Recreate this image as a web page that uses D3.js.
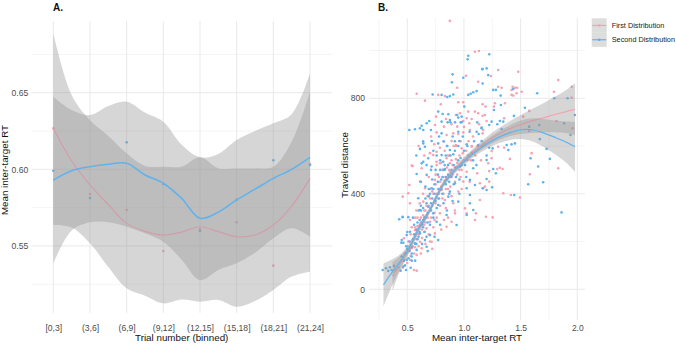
<!DOCTYPE html>
<html>
<head>
<meta charset="utf-8">
<script src="https://cdn.jsdelivr.net/npm/d3@7"></script>
<style>
  body { margin: 0; background: #fff; }
  svg { display: block; font-family: "Liberation Sans", Arial, sans-serif; }
</style>
</head>
<body>
<svg id="chart" width="676" height="345"></svg>
<script>
// ---- panel A data (binned trials) ----
const trialBins = ["[0,3]", "(3,6]", "(6,9]", "(9,12]", "(12,15]", "(15,18]", "(18,21]", "(21,24]"];
const firstMeans = [0.6268, 0.5839, 0.5734, 0.5467, 0.5610, 0.5654, 0.5371, 0.6035];
const secondMeans = [0.5991, 0.5813, 0.6176, 0.5904, 0.5597, 0.5802, 0.6059, 0.6028];

// smoother read at every half bin
const smoothPos = [1, 1.5, 2, 2.5, 3, 3.5, 4, 4.5, 5, 5.5, 6, 6.5, 7, 7.5, 8];
const firstFit  = [0.6268, 0.6054, 0.5898, 0.5770, 0.5647, 0.5595, 0.5571, 0.5590, 0.5625, 0.5593, 0.5560, 0.5571, 0.5636, 0.5760, 0.5941];
const firstLow  = [0.5636, 0.5620, 0.5517, 0.5362, 0.5223, 0.5175, 0.5125, 0.5150, 0.5136, 0.5147, 0.5103, 0.5140, 0.5212, 0.5300, 0.5332];
const firstHigh = [0.6888, 0.6485, 0.6320, 0.6218, 0.6104, 0.6022, 0.6017, 0.6017, 0.6078, 0.6006, 0.6006, 0.6006, 0.6017, 0.6180, 0.6507];
const secondFit  = [0.5930, 0.5991, 0.6017, 0.6033, 0.6039, 0.5963, 0.5909, 0.5810, 0.5680, 0.5720, 0.5800, 0.5870, 0.5941, 0.6000, 0.6078];
const secondLow  = [0.5386, 0.5600, 0.5654, 0.5654, 0.5625, 0.5582, 0.5527, 0.5410, 0.5277, 0.5343, 0.5386, 0.5456, 0.5550, 0.5615, 0.5560];
const secondHigh = [0.6474, 0.6387, 0.6354, 0.6413, 0.6441, 0.6370, 0.6310, 0.6160, 0.6078, 0.6100, 0.6191, 0.6250, 0.6300, 0.6360, 0.6627];

// ---- panel B data (RT vs travel distance) ----
const firstPoints = [
  [0.876,1124],[1.132,998],[1.097,995],[1.018,894],[0.941,844],[1.126,869],[0.583,819],[0.773,814],[0.832,809],[0.656,790],
  [0.795,775],[0.950,783],[0.994,783],[1.038,744],[1.097,744],[1.126,737],[0.929,730],[0.965,737],[0.753,723],[0.841,713],
  [1.024,716],[1.068,713],[0.744,688],[0.824,681],[0.891,691],[0.941,681],[0.994,705],[1.047,695],[1.134,691],[0.759,657],
  [0.847,646],[0.906,653],[0.994,657],[1.053,667],[1.170,667],[0.738,607],[0.788,593],[0.824,618],[0.891,621],[0.929,604],
  [0.980,590],[1.068,597],[0.759,576],[0.729,562],[0.847,549],[0.759,534],[0.876,528],[0.700,570],
  [1.302,918],[1.238,893],[1.479,911],[1.832,876],[1.794,827],[1.950,848],[1.950,802],[1.302,848],[1.332,844],[1.429,848],
  [1.450,844],[1.420,835],[1.470,844],[1.509,827],[1.420,814],[1.435,811],[1.465,821],[1.273,779],[1.362,779],[1.265,765],
  [1.165,727],[1.191,765],[1.576,747],[1.355,716],[1.523,723],[1.817,705],[1.958,674],[1.576,663],[1.832,507],[1.597,570],
  [1.582,482],[1.406,546],[1.355,593],[1.347,402],[1.414,395],[1.494,384],[1.194,304],[1.253,301],[1.185,430],[1.223,451],
  [1.317,509],[1.294,504],[1.341,504],[1.223,495],[1.214,528],[1.244,549],[1.244,579],[1.302,597],[1.165,775],[1.185,730],
  [1.165,653],[1.200,705],[1.097,290],[1.024,318],
  [0.559,81],[0.400,81],[0.583,78],[0.465,123],[0.518,162],[0.500,181],[0.568,176],[0.524,290],[0.459,304],[0.509,402],
  [0.518,437],[0.548,516],[0.539,518],[0.627,507],[0.788,528],[0.876,492],[1.024,492],[1.117,486],[0.994,451],[0.744,458],
  [0.612,451],[0.656,423],[0.803,416],[0.950,409],[1.141,444],[1.170,423],[0.524,360],[0.641,367],[0.744,374],[0.832,374],
  [0.906,360],[1.009,339],[1.106,318],[0.921,318],[0.788,318],[0.671,311],[0.700,283],[0.824,290],[0.891,283],[0.847,262],
  [1.141,374],[0.459,388],[0.568,248],[0.656,241],[0.744,234],[0.715,199],[0.612,199],[0.539,172],[0.627,172],[0.583,144],
  [0.524,123],[0.471,214],
  [0.50,110],[0.53,140],[0.55,205],[0.57,225],[0.59,265],[0.60,180],[0.62,300],[0.63,215],[0.65,270],[0.66,330],
  [0.67,255],[0.68,390],[0.69,230],[0.70,340],[0.71,300],[0.72,410],[0.73,260],[0.74,320],[0.75,440],[0.76,300],
  [0.77,380],[0.78,470],[0.79,350],[0.80,430],[0.81,500],[0.82,400],[0.83,455],[0.84,340],[0.85,510],[0.86,420],
  [0.87,560],[0.88,470],[0.89,390],[0.90,520],[0.91,600],[0.92,450],[0.93,545],[0.94,480],[0.96,560],[0.97,620],
  [0.98,500],[1.00,540],[1.02,580],[1.04,620],[1.06,540],[1.08,640],[1.10,560],[1.12,600],[1.15,540],[1.18,610],
  [0.58,330],[0.64,400],[0.62,150],[0.66,190],[0.70,200],[0.72,170],[0.80,250],[0.86,300],[0.92,330],[0.98,420],
  [1.05,450],[0.54,260],[0.57,300],[0.61,360],[0.69,470],[0.76,520],[0.83,580],[0.95,650],[1.00,680],[0.71,640],
  [0.65,560],[0.60,600],
  [0.52,170],[0.55,180],[0.56,150],[0.58,210],[0.60,230],[0.61,270],[0.63,250],[0.64,310],[0.66,280],[0.67,350],
  [0.68,300],[0.70,380],[0.72,350],[0.73,400],[0.74,290],[0.75,360],[0.77,420],[0.78,400],[0.79,450],[0.81,380],
  [0.82,470],[0.84,420],[0.85,460],[0.87,500],[0.88,430],[0.90,480],[0.92,510],[0.94,530],[0.96,500],[0.99,570],
  [1.03,540],[1.07,600],[0.57,260],[0.62,280],[0.65,330],[0.69,350],[0.76,400],[0.83,500],[0.89,540],[0.97,470],
  [0.51,200],[0.48,150],[0.46,90],[0.53,230],[0.59,300],[0.70,420],[0.75,480],[0.80,530],[0.86,560],[0.93,600]
];
const secondPoints = [
  [1.038,978],[1.033,963],[1.161,922],[0.900,900],[0.994,886],[0.894,867],[1.112,830],[1.082,825],[1.059,819],[1.038,814],
  [0.724,816],[0.803,814],[0.853,805],[0.876,809],[0.906,816],[1.003,765],[0.773,744],[0.812,734],[0.862,733],[0.950,719],
  [0.980,723],[0.876,709],[0.694,705],[0.671,695],[0.627,685],[0.612,674],[0.568,670],[0.518,667],[0.641,667],[0.709,667],
  [0.803,702],[0.856,699],[0.921,699],[0.971,699],[1.117,699],[1.156,677],[0.803,653],[0.950,660],[1.112,660],[0.715,621],
  [0.773,611],[0.853,600],[0.876,583],[0.959,621],[1.024,607],[1.126,604],[0.641,611],[0.656,597],[0.612,588],[0.803,562],
  [0.906,565],[0.685,549],[0.641,534],[0.817,534],
  [1.223,984],[1.200,925],[1.165,922],[1.214,897],[1.165,862],[1.797,800],[1.914,800],[1.646,821],[1.258,835],[1.282,835],
  [1.435,839],[1.324,811],[1.326,772],[1.265,751],[1.538,760],[1.441,726],[1.884,695],[1.940,646],[1.979,730],[1.664,688],
  [1.576,681],[1.670,629],[1.729,588],[1.758,546],[1.588,549],[1.655,514],[1.567,440],[1.699,448],[1.861,322],[1.391,583],
  [1.377,604],[1.420,607],[1.450,611],[1.444,395],[1.200,416],[1.165,423],[1.249,427],[1.258,504],[1.200,462],[1.282,486],
  [1.200,541],[1.253,590],[1.223,593],[1.156,674],[1.223,688],[1.244,702],[1.156,621],[1.294,691],[1.317,705],[1.347,702],
  [1.332,671],
  [0.283,81],[0.312,88],[0.347,92],[0.383,98],[0.421,92],[0.465,95],[0.489,81],[0.441,78],[0.362,81],[0.332,77],
  [0.451,137],[0.489,151],[0.539,176],[0.465,195],[0.429,293],[0.459,302],[0.509,302],[0.627,528],[0.715,514],[0.832,503],
  [0.965,514],[1.082,507],[1.053,458],[0.921,444],[0.671,479],[0.583,483],[0.715,423],[0.876,409],[1.024,423],[1.097,437],
  [1.053,395],[0.597,381],[0.685,346],[0.773,353],[0.862,388],[0.950,367],[1.053,360],[1.024,311],[0.847,311],[0.729,318],
  [0.612,332],[0.641,290],[0.759,283],[0.935,269],[1.082,332],[0.524,241],[0.612,234],[0.700,227],[0.773,206],[0.656,206],
  [0.568,193],[0.583,165],[0.671,178],[0.539,137],[0.495,123],[0.451,206],[0.495,227],[0.447,195],
  [0.48,100],[0.51,130],[0.52,200],[0.54,150],[0.56,230],[0.58,190],[0.59,280],[0.61,240],[0.62,330],[0.64,260],
  [0.65,300],[0.66,380],[0.67,220],[0.68,320],[0.69,420],[0.70,270],[0.71,360],[0.72,460],[0.73,300],[0.74,400],
  [0.75,500],[0.76,340],[0.77,450],[0.78,380],[0.79,540],[0.80,420],[0.81,470],[0.82,360],[0.83,520],[0.84,440],
  [0.85,600],[0.86,480],[0.87,400],[0.88,560],[0.89,500],[0.90,640],[0.91,440],[0.92,580],[0.93,510],[0.95,600],
  [0.96,460],[0.97,550],[0.99,640],[1.01,520],[1.03,600],[1.05,660],[1.07,570],[1.09,620],[1.11,520],[1.13,650],
  [1.16,600],[1.20,560],[0.55,300],[0.60,330],[0.63,190],[0.68,160],[0.74,220],[0.79,270],[0.85,330],[0.90,370],
  [0.96,400],[1.02,470],[0.53,90],[0.57,120],[0.62,450],[0.67,520],[0.73,580],[0.78,640],[0.88,700],[0.94,730],
  [0.58,560],[0.64,620],[0.50,240],
  [0.50,170],[0.52,160],[0.55,210],[0.57,190],[0.58,250],[0.60,220],[0.61,290],[0.63,270],[0.64,340],[0.66,300],
  [0.67,360],[0.68,280],[0.70,400],[0.71,330],[0.72,380],[0.74,440],[0.75,370],[0.77,480],[0.78,420],[0.80,460],
  [0.81,400],[0.82,500],[0.84,470],[0.86,520],[0.87,450],[0.89,470],[0.91,520],[0.93,470],[0.95,540],[0.98,520],
  [1.00,580],[1.04,560],[1.08,540],[0.56,270],[0.62,350],[0.65,240],[0.69,390],[0.73,420],[0.79,500],[0.84,560],
  [0.92,620],[0.47,120],[0.49,180],[0.54,120],[0.59,210],[0.66,430],[0.71,500],[0.76,560],[0.82,620],[0.98,700]
];

// loess fits for panel B (value and half width of the band)
const bFirstX    = [0.37, 0.40, 0.45, 0.50, 0.55, 0.60, 0.65, 0.70, 0.75, 0.80, 0.85, 0.90, 0.95, 1.00, 1.10, 1.20, 1.30, 1.40, 1.50, 1.60, 1.70, 1.80, 1.90, 1.98];
const bFirstFit  = [55, 80, 118, 155, 200, 250, 290, 332, 382, 428, 463, 492, 517, 540, 582, 618, 648, 672, 690, 705, 718, 732, 744, 754];
const bFirstHalf = [60, 45, 28, 19, 15, 14, 13, 12, 12, 12, 12, 12, 13, 14, 16, 20, 25, 31, 40, 50, 61, 74, 90, 109];
const bSecondX    = [0.29, 0.35, 0.40, 0.45, 0.50, 0.55, 0.60, 0.65, 0.70, 0.75, 0.80, 0.85, 0.90, 0.95, 1.00, 1.10, 1.20, 1.30, 1.40, 1.50, 1.60, 1.70, 1.80, 1.90, 1.98];
const bSecondFit  = [18, 60, 92, 125, 160, 205, 255, 292, 332, 380, 425, 460, 488, 512, 535, 575, 608, 635, 655, 668, 668, 655, 637, 617, 597];
const bSecondHalf = [90, 62, 42, 27, 19, 15, 14, 13, 12, 12, 12, 12, 12, 13, 14, 16, 20, 25, 31, 39, 48, 58, 70, 86, 105];

const seriesNames = ["First Distribution", "Second Distribution"];

// ---- styling ----
const PINK = "#f7a1b4";
const BLUE = "#5fb3ec";
const BAND = "#999999";
const GRID = "#e9e9e9";
const GRID_MINOR = "#f1f1f1";
const TICK_TXT = "#4d4d4d";

const svg = d3.select("#chart");
svg.append("rect").attr("width", 676).attr("height", 345).attr("fill", "#fff");

function styleAxis(g, size) {
  g.select(".domain").remove();
  g.selectAll(".tick line").remove();
  g.selectAll("text").attr("fill", TICK_TXT).style("font-size", size + "px").style("font-family", "Liberation Sans, Arial, sans-serif");
}

// =================== Panel A ===================
const xA = d3.scaleLinear().domain([0.4, 8.6]).range([31.3, 332]);
const yA = d3.scaleLinear().domain([0.5062, 0.6968]).range([313, 21]);
const gA = svg.append("g");

gA.selectAll("line.minor").data([0.525, 0.575, 0.625, 0.675]).enter().append("line")
  .attr("x1", xA.range()[0]).attr("x2", xA.range()[1])
  .attr("y1", d => yA(d)).attr("y2", d => yA(d))
  .attr("stroke", GRID_MINOR).attr("stroke-width", 0.8);
gA.selectAll("line.hmajor").data([0.55, 0.60, 0.65]).enter().append("line")
  .attr("x1", xA.range()[0]).attr("x2", xA.range()[1])
  .attr("y1", d => yA(d)).attr("y2", d => yA(d))
  .attr("stroke", GRID).attr("stroke-width", 1);
gA.selectAll("line.vmajor").data(d3.range(1, 9)).enter().append("line")
  .attr("x1", d => xA(d)).attr("x2", d => xA(d))
  .attr("y1", yA.range()[0]).attr("y2", yA.range()[1])
  .attr("stroke", GRID).attr("stroke-width", 1);

gA.append("g").attr("transform", "translate(31.3,0)")
  .call(d3.axisLeft(yA).tickValues([0.55, 0.60, 0.65]).tickFormat(d3.format(".2f")).tickSize(0).tickPadding(3))
  .call(g => styleAxis(g, 8.6));
gA.append("g").attr("transform", "translate(0,313)")
  .call(d3.axisBottom(xA).tickValues(d3.range(1, 9)).tickFormat(i => trialBins[i - 1]).tickSize(0).tickPadding(11.5))
  .call(g => styleAxis(g, 8.6));

// points first, then the smoothers on top (ggplot layer order)
gA.selectAll("circle.a1").data(firstMeans).enter().append("circle")
  .attr("cx", (d, i) => xA(i + 1)).attr("cy", d => yA(d)).attr("r", 1.3).attr("fill", PINK);
gA.selectAll("circle.a2").data(secondMeans).enter().append("circle")
  .attr("cx", (d, i) => xA(i + 1)).attr("cy", d => yA(d)).attr("r", 1.3).attr("fill", BLUE);

const curveA = d3.curveCatmullRom.alpha(0.5);
const areaA = d3.area().x(d => xA(d.x)).y0(d => yA(d.lo)).y1(d => yA(d.hi)).curve(curveA);
const lineA = d3.line().x(d => xA(d.x)).y(d => yA(d.y)).curve(curveA);

function drawSmoothA(fit, lo, hi, color, width) {
  const rows = smoothPos.map((x, i) => ({ x: x, y: fit[i], lo: lo[i], hi: hi[i] }));
  gA.append("path").datum(rows).attr("d", areaA).attr("fill", BAND).attr("fill-opacity", 0.4);
  gA.append("path").datum(rows).attr("d", lineA).attr("fill", "none").attr("stroke", color).attr("stroke-width", width);
}
drawSmoothA(firstFit, firstLow, firstHigh, PINK, 1.2);
drawSmoothA(secondFit, secondLow, secondHigh, BLUE, 1.5);

gA.append("text").attr("x", 53).attr("y", 11).text("A.")
  .style("font-size", "10px").style("font-weight", "bold").attr("fill", "#111");
gA.append("text").attr("x", 181.7).attr("y", 341).attr("text-anchor", "middle")
  .text("Trial number (binned)").style("font-size", "9.8px").attr("fill", "#111");
gA.append("text").attr("transform", "translate(8,170) rotate(-90)").attr("text-anchor", "middle")
  .text("Mean inter-target RT").style("font-size", "9.8px").attr("fill", "#111");

// =================== Panel B ===================
const xB = d3.scaleLinear().domain([0.165, 2.068]).range([369.3, 585]);
const yB = d3.scaleLinear().domain([-128.6, 1134.8]).range([320, 18.3]);
const gB = svg.append("g");

gB.selectAll("line.bhminor").data([200, 600, 1000]).enter().append("line")
  .attr("x1", xB.range()[0]).attr("x2", xB.range()[1])
  .attr("y1", d => yB(d)).attr("y2", d => yB(d))
  .attr("stroke", GRID_MINOR).attr("stroke-width", 0.8);
gB.selectAll("line.bvminor").data([0.25, 0.75, 1.25, 1.75]).enter().append("line")
  .attr("x1", d => xB(d)).attr("x2", d => xB(d))
  .attr("y1", yB.range()[0]).attr("y2", yB.range()[1])
  .attr("stroke", GRID_MINOR).attr("stroke-width", 0.8);
gB.selectAll("line.bhmajor").data([0, 400, 800]).enter().append("line")
  .attr("x1", xB.range()[0]).attr("x2", xB.range()[1])
  .attr("y1", d => yB(d)).attr("y2", d => yB(d))
  .attr("stroke", GRID).attr("stroke-width", 1);
gB.selectAll("line.bvmajor").data([0.5, 1.0, 1.5, 2.0]).enter().append("line")
  .attr("x1", d => xB(d)).attr("x2", d => xB(d))
  .attr("y1", yB.range()[0]).attr("y2", yB.range()[1])
  .attr("stroke", GRID).attr("stroke-width", 1);

gB.append("g").attr("transform", "translate(369.3,0)")
  .call(d3.axisLeft(yB).tickValues([0, 400, 800]).tickSize(0).tickPadding(4.3))
  .call(g => styleAxis(g, 8.5));
gB.append("g").attr("transform", "translate(0,320)")
  .call(d3.axisBottom(xB).tickValues([0.5, 1.0, 1.5, 2.0]).tickFormat(d3.format(".1f")).tickSize(0).tickPadding(4.5))
  .call(g => styleAxis(g, 8.5));

gB.selectAll("circle.b1").data(firstPoints).enter().append("circle")
  .attr("cx", d => xB(d[0])).attr("cy", d => yB(d[1])).attr("r", 1.3).attr("fill", PINK);
gB.selectAll("circle.b2").data(secondPoints).enter().append("circle")
  .attr("cx", d => xB(d[0])).attr("cy", d => yB(d[1])).attr("r", 1.3).attr("fill", BLUE);

const curveB = d3.curveCatmullRom.alpha(0.5);
const areaB = d3.area().x(d => xB(d.x)).y0(d => yB(d.y - d.h)).y1(d => yB(d.y + d.h)).curve(curveB);
const lineB = d3.line().x(d => xB(d.x)).y(d => yB(d.y)).curve(curveB);

function drawSmoothB(xs, fit, half, color) {
  const rows = xs.map((x, i) => ({ x: x, y: fit[i], h: half[i] }));
  gB.append("path").datum(rows).attr("d", areaB).attr("fill", BAND).attr("fill-opacity", 0.4);
  gB.append("path").datum(rows).attr("d", lineB).attr("fill", "none").attr("stroke", color).attr("stroke-width", 1.2);
}
drawSmoothB(bFirstX, bFirstFit, bFirstHalf, PINK);
drawSmoothB(bSecondX, bSecondFit, bSecondHalf, BLUE);

gB.append("text").attr("x", 378).attr("y", 11).text("B.")
  .style("font-size", "10px").style("font-weight", "bold").attr("fill", "#111");
gB.append("text").attr("x", 477).attr("y", 341).attr("text-anchor", "middle")
  .text("Mean inter-target RT").style("font-size", "9.8px").attr("fill", "#111");
gB.append("text").attr("transform", "translate(348,165) rotate(-90)").attr("text-anchor", "middle")
  .text("Travel distance").style("font-size", "9.8px").attr("fill", "#111");

// legend
const legend = svg.append("g").attr("transform", "translate(591.7,18.3)");
[PINK, BLUE].forEach((c, i) => {
  const k = legend.append("g").attr("transform", `translate(0,${i * 14.3})`);
  k.append("rect").attr("width", 15).attr("height", 14.3).attr("fill", BAND).attr("fill-opacity", 0.33);
  k.append("line").attr("x1", 0.5).attr("x2", 14.5).attr("y1", 7.15).attr("y2", 7.15).attr("stroke", c).attr("stroke-width", 1.2);
  k.append("circle").attr("cx", 7.5).attr("cy", 7.15).attr("r", 1.3).attr("fill", c);
  k.append("text").attr("x", 20).attr("y", 9.6).text(seriesNames[i])
    .style("font-size", "7.3px").attr("fill", "#222");
});
</script>
</body>
</html>
